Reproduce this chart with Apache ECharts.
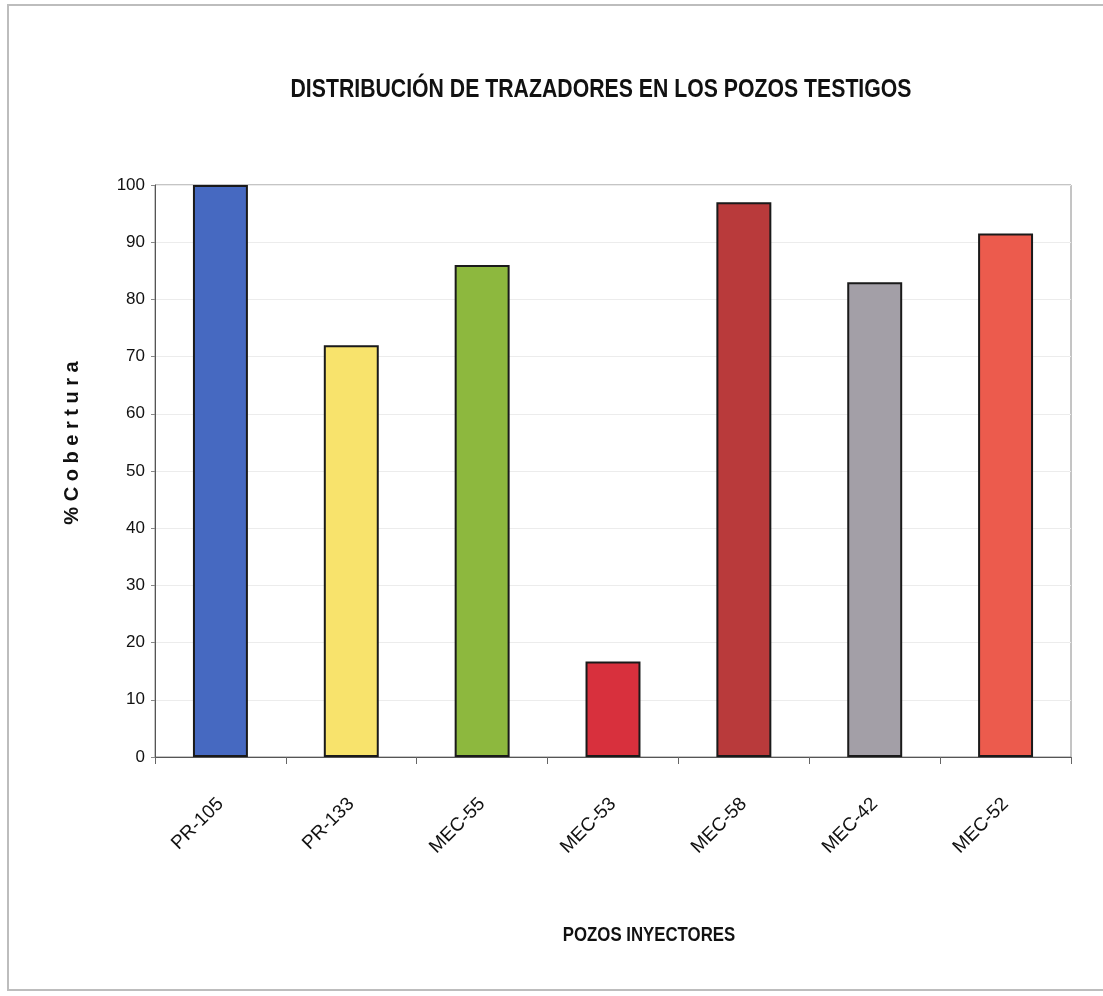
<!DOCTYPE html>
<html>
<head>
<meta charset="utf-8">
<script src="https://cdn.jsdelivr.net/npm/echarts@6/dist/echarts.min.js"></script>
<style>
  html, body { margin: 0; padding: 0; background: #fff; }
  #chart { width: 1103px; height: 996px; }
</style>
</head>
<body>
<div id="chart"></div>
<script>
// Tracer coverage per injector well
const wells = ['PR-105', 'PR-133', 'MEC-55', 'MEC-53', 'MEC-58', 'MEC-42', 'MEC-52'];
const coverage = [100, 72, 86, 16.7, 97, 83, 91.5];
const barColors = ['#4669c1', '#f8e36c', '#8db83e', '#d8303d', '#b93a3b', '#a39fa7', '#ec5b4d'];
const yTicks = [0, 10, 20, 30, 40, 50, 60, 70, 80, 90, 100];

const font = '"Liberation Sans", Arial, sans-serif';

const chart = echarts.init(document.getElementById('chart'));
chart.setOption({
  backgroundColor: '#ffffff',
  animation: false,
  grid: { left: 155, right: 32, top: 185, bottom: 239, show: true, borderColor: '#8a8a8a', borderWidth: 1 },
  xAxis: {
    type: 'category',
    data: wells,
    axisLine: { lineStyle: { color: '#555', width: 1 } },
    axisTick: { show: true, alignWithLabel: false, length: 7, lineStyle: { color: '#666' } },
    axisLabel: { rotate: 45, margin: 44, fontFamily: font, fontSize: 19, color: '#111' }
  },
  yAxis: {
    type: 'value',
    min: 0, max: 100, interval: 10,
    axisLine: { show: true, lineStyle: { color: '#555', width: 1 } },
    axisTick: { show: true, length: 4, lineStyle: { color: '#888' } },
    axisLabel: {
      margin: 10, fontFamily: font, fontSize: 17, color: '#111',
      formatter: v => (yTicks.includes(v) ? String(v) : '')
    },
    splitLine: { show: true, lineStyle: { color: '#ececec', width: 1 } }
  },
  series: [{
    type: 'bar',
    data: coverage.map((v, i) => ({ value: v, itemStyle: { color: barColors[i] } })),
    barWidth: '42%',
    itemStyle: { borderColor: '#1a1a1a', borderWidth: 2 }
  }],
  graphic: [
    {
      type: 'rect',
      shape: { x: 8, y: 5, width: 1120, height: 985 },
      style: { fill: 'none', stroke: '#bdbdbd', lineWidth: 2 },
      silent: true
    },
    {
      // chart title, condensed
      type: 'text',
      x: 601, y: 90, scaleX: 0.85,
      style: {
        text: 'DISTRIBUCIÓN DE TRAZADORES EN LOS POZOS TESTIGOS',
        fontFamily: font, fontWeight: 'bold', fontSize: 25, fill: '#111',
        textAlign: 'center', textVerticalAlign: 'middle'
      }
    },
    {
      // x-axis title
      type: 'text',
      x: 649, y: 935, scaleX: 0.84,
      style: {
        text: 'POZOS INYECTORES',
        fontFamily: font, fontWeight: 'bold', fontSize: 20, fill: '#111',
        textAlign: 'center', textVerticalAlign: 'middle'
      }
    },
    {
      // y-axis title
      type: 'text',
      x: 72, y: 443,
      rotation: Math.PI / 2,
      style: {
        text: '% C o b e r t u r a',
        fontFamily: font, fontWeight: 'bold', fontSize: 20, fill: '#111',
        textAlign: 'center', textVerticalAlign: 'middle'
      }
    }
  ]
});
</script>
</body>
</html>
